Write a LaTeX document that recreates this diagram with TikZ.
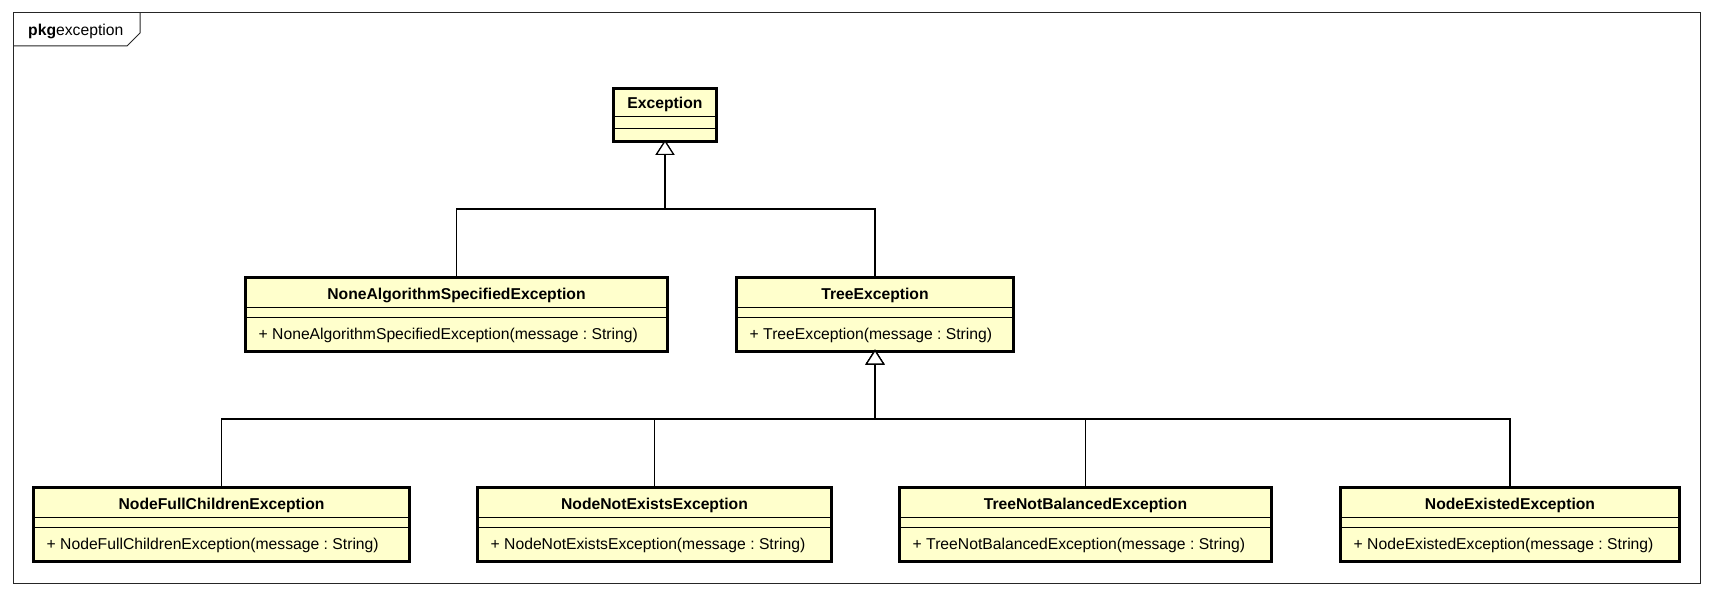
\documentclass[tikz,border=0pt]{standalone}
\usepackage{fontspec}
\setmainfont{Liberation Sans}
\usetikzlibrary{arrows.meta}
\definecolor{clsfill}{HTML}{FFFFCC}
\frenchspacing
\begin{document}
\begin{tikzpicture}[x=1pt,y=-1pt,
  cls/.style={draw=black, line width=3pt, fill=clsfill, rectangle,
    inner sep=0pt, outer sep=0pt, anchor=north west},
  ttl/.style={font=\fontsize{15.7}{18}\selectfont\bfseries, inner sep=0pt, anchor=base},
  op/.style={font=\fontsize{15.7}{18}\selectfont, inner sep=0pt, anchor=base west},
  divider/.style={draw=black, line width=1pt},
  frameline/.style={draw=black!85, line width=1pt},
  inherit/.style={draw=black, line width=1.2pt, shorten >=-1.5pt,
    -{Triangle[open, length=15pt, width=19pt, fill=white]}},
]
\useasboundingbox (0,0) rectangle (1713,596);

% package frame with its name tab
\draw[frameline] (13,13) rectangle (1700,583);
\draw[frameline] (13,46) -- (127,46) -- (140,33) -- (140,13);
\node[op] (pkglabel) at (28,36) {\textbf{pkg}exception};

% root class
\node[cls, minimum width=103pt, minimum height=53pt] (exc) at (613.5,88.5) {};
\draw[divider] ([yshift=-28.5pt]exc.north west) -- ([yshift=-28.5pt]exc.north east);
\draw[divider] ([yshift=-40.5pt]exc.north west) -- ([yshift=-40.5pt]exc.north east);
\node[ttl] (exct) at ([yshift=-20.5pt]exc.north) {Exception};

% second level
\node[cls, minimum width=422pt, minimum height=74pt] (none) at (245.5,277) {};
\node[cls, minimum width=277pt, minimum height=74pt] (tree) at (736.5,277) {};

% third level
\node[cls, minimum width=376pt, minimum height=74pt] (nfc) at (33.5,487) {};
\node[cls, minimum width=354pt, minimum height=74pt] (nne) at (477.5,487) {};
\node[cls, minimum width=372pt, minimum height=74pt] (tnb) at (899.5,487) {};
\node[cls, minimum width=339pt, minimum height=74pt] (nex) at (1340.5,487) {};

% compartments, names and constructors
\foreach \n/\name in {none/NoneAlgorithmSpecifiedException, tree/TreeException,
    nfc/NodeFullChildrenException, nne/NodeNotExistsException,
    tnb/TreeNotBalancedException, nex/NodeExistedException}{
  \draw[divider] ([yshift=-30.5pt]\n.north west) -- ([yshift=-30.5pt]\n.north east);
  \draw[divider] ([yshift=-40.5pt]\n.north west) -- ([yshift=-40.5pt]\n.north east);
  \node[ttl] (\n-title) at ([yshift=-22.5pt]\n.north) {\name};
  \node[op] (\n-op) at ([xshift=13pt,yshift=-62.5pt]\n.north west) {+ \name(message : String)};
}

% generalization connectors
\coordinate (j1) at (665,209);
\coordinate (j2) at (875,419);
\draw[inherit] (none.north) |- (j1) -- (exc.south);
\draw[inherit] (tree.north) |- (j1) -- (exc.south);
\draw[inherit] (nfc.north) |- (j2) -- (tree.south);
\draw[inherit] (nne.north) |- (j2) -- (tree.south);
\draw[inherit] (tnb.north) |- (j2) -- (tree.south);
\draw[inherit] (nex.north) |- (j2) -- (tree.south);
\end{tikzpicture}
\end{document}
